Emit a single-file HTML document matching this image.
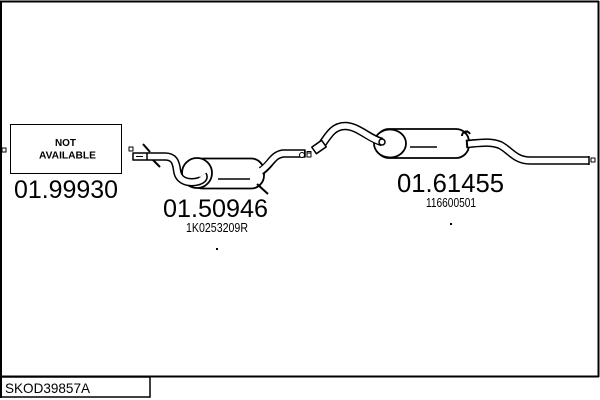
<!DOCTYPE html>
<html><head><meta charset="utf-8"><style>
html,body{margin:0;padding:0;background:#fff;}
svg{display:block;}
text{font-family:"Liberation Sans",Arial,sans-serif;fill:#000;}
</style></head><body>
<svg width="600" height="400" viewBox="0 0 600 400" xmlns="http://www.w3.org/2000/svg">
<!-- frame -->
<line x1="0" y1="1.5" x2="599" y2="1.5" stroke="#000" stroke-width="2"/>
<line x1="1" y1="1" x2="1" y2="398" stroke="#000" stroke-width="2"/>
<line x1="598.5" y1="1" x2="598.5" y2="377" stroke="#000" stroke-width="2"/>
<line x1="0" y1="376.5" x2="599" y2="376.5" stroke="#000" stroke-width="2"/>
<rect x="1" y="377" width="149" height="20" fill="none" stroke="#000" stroke-width="1.5"/>
<text x="5" y="393" font-size="14" textLength="85" lengthAdjust="spacingAndGlyphs">SKOD39857A</text>

<!-- NOT AVAILABLE -->
<rect x="2" y="148" width="4" height="4" fill="#fff" stroke="#000" stroke-width="1"/>
<rect x="10.5" y="124.5" width="111" height="49" fill="#fff" stroke="#000" stroke-width="1"/>
<text x="55" y="146" font-size="10.5" font-weight="bold" textLength="21" lengthAdjust="spacingAndGlyphs">NOT</text>
<text x="39" y="158.5" font-size="10.5" font-weight="bold" textLength="57" lengthAdjust="spacingAndGlyphs">AVAILABLE</text>
<text x="14" y="198" font-size="25" textLength="104" lengthAdjust="spacingAndGlyphs">01.99930</text>

<!-- Section 1 -->
<g fill="none" stroke-linecap="butt" stroke-linejoin="round">
<line x1="143" y1="144" x2="150" y2="152" stroke="#000" stroke-width="2"/>
<line x1="153" y1="160" x2="160" y2="167" stroke="#000" stroke-width="2"/>
<rect x="129" y="147" width="4" height="4" fill="#fff" stroke="#000" stroke-width="1"/>
<!-- body -->
<rect x="190" y="158.5" width="74" height="30" rx="13" fill="#fff" stroke="#000" stroke-width="1.8"/>
<line x1="218" y1="179" x2="250" y2="179" stroke="#000" stroke-width="1.5"/>
<ellipse cx="197" cy="173" rx="15" ry="15" fill="#fff" stroke="#000" stroke-width="1.8"/>
<!-- inlet pipe -->
<path d="M147,156.5 L165,156.5 C174,156.5 176,162 177,170 C178,180 186,183 195,182 C202,181 205,178 203,175" stroke="#000" stroke-width="8.5"/>
<path d="M147,156.5 L165,156.5 C174,156.5 176,162 177,170 C178,180 186,183 195,182 C202,181 205,178 203,175" stroke="#fff" stroke-width="5.5"/>
<rect x="133" y="153" width="14" height="7" fill="#fff" stroke="#000" stroke-width="1.5"/>
<line x1="136" y1="156.5" x2="143" y2="156.5" stroke="#000" stroke-width="1"/>
<!-- outlet pipe -->
<path d="M261,171 C270,166 272,155 283,153.5 L305,153.5" stroke="#000" stroke-width="8.5"/>
<path d="M259,172 C270,166 272,155 283,153.5 L304,153.5" stroke="#fff" stroke-width="5.5"/>
<line x1="305" y1="149.5" x2="305" y2="157.5" stroke="#000" stroke-width="1.5"/>
<rect x="307" y="151.5" width="4" height="4" fill="#fff" stroke="#000" stroke-width="1"/>
<line x1="257" y1="184" x2="268" y2="194" stroke="#000" stroke-width="2"/>
</g>
<text x="163" y="217" font-size="25" textLength="105" lengthAdjust="spacingAndGlyphs">01.50946</text>
<text x="186" y="232" font-size="12.5" textLength="62" lengthAdjust="spacingAndGlyphs">1K0253209R</text>
<rect x="216" y="248" width="2" height="2" fill="#000"/>

<!-- Section 2 -->
<g fill="none" stroke-linejoin="round">
<circle cx="302" cy="155" r="2.5" fill="#fff" stroke="#000" stroke-width="1"/>
<rect x="307" y="153" width="4" height="4" fill="#fff" stroke="#000" stroke-width="1"/>
<!-- body -->
<rect x="376" y="129" width="93" height="29" rx="13" fill="#fff" stroke="#000" stroke-width="1.8"/>
<line x1="410" y1="147" x2="437" y2="147" stroke="#000" stroke-width="1.5"/>
<ellipse cx="390" cy="143.5" rx="16" ry="14" fill="#fff" stroke="#000" stroke-width="1.8"/>
<!-- inlet pipe -->
<path d="M321,146 C329,134 334,126 345,126 C358,126 368,138 382,142" stroke="#000" stroke-width="8.5"/>
<path d="M321,146 C329,134 334,126 345,126 C358,126 368,138 380,141.5" stroke="#fff" stroke-width="5.5"/>
<circle cx="382" cy="142" r="3" fill="#fff" stroke="#000" stroke-width="1.5"/>
<rect x="313" y="143" width="12" height="8" fill="#fff" stroke="#000" stroke-width="1.5" transform="rotate(-35 319 147)"/>
<!-- outlet pipe -->
<path d="M466,144 C480,143 490,141 500,145 C510,150 515,160.5 530,160.5 L589,160.5" stroke="#000" stroke-width="8.5"/>
<path d="M468,144 C480,143 490,141 500,145 C510,150 515,160.5 530,160.5 L588.5,160.5" stroke="#fff" stroke-width="5.5"/>
<line x1="589" y1="156" x2="589" y2="165" stroke="#000" stroke-width="1.5"/>
<rect x="591" y="158" width="4" height="4" fill="#fff" stroke="#000" stroke-width="1"/>
<path d="M462,136 C462,131 468,130 470,134 M464,133 L468,131" stroke="#000" stroke-width="2"/>
</g>
<text x="397" y="192" font-size="25.5" textLength="107" lengthAdjust="spacingAndGlyphs">01.61455</text>
<text x="426" y="207" font-size="13" textLength="50" lengthAdjust="spacingAndGlyphs">116600501</text>
<rect x="450" y="223" width="2" height="2" fill="#000"/>
</svg>
</body></html>
